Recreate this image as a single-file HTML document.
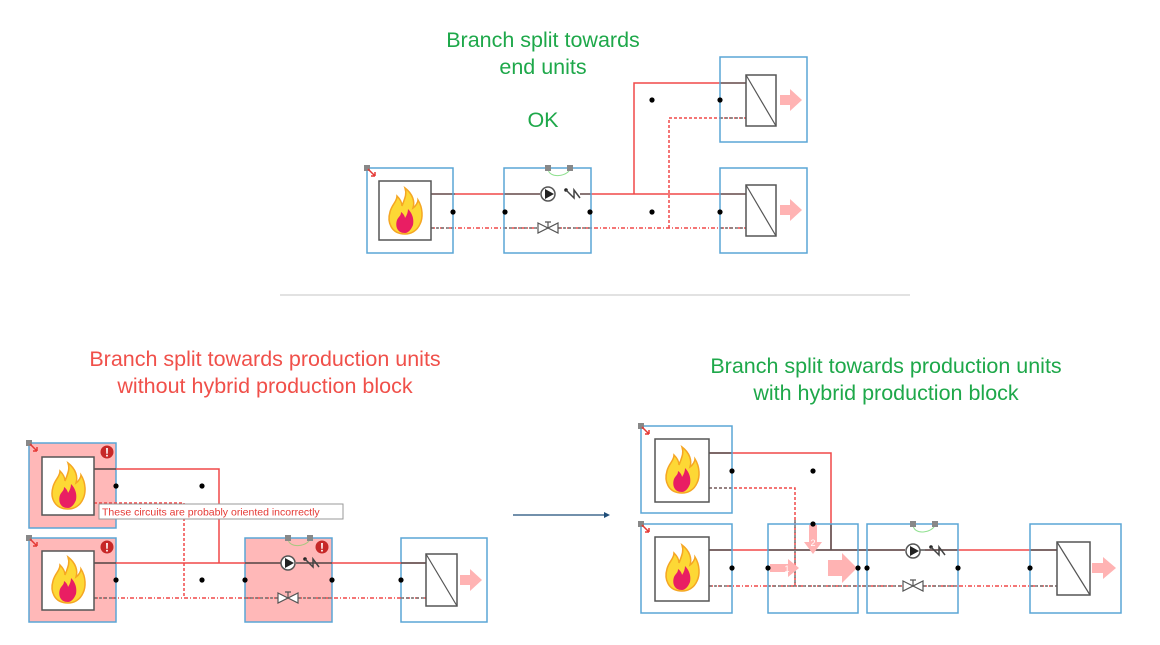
<!DOCTYPE html>
<html><head><meta charset="utf-8"><style>
html,body{margin:0;padding:0;background:#fff;}
svg{display:block;}
text{font-family:"Liberation Sans",sans-serif;}
</style></head><body>
<svg width="1160" height="645" viewBox="0 0 1160 645" xmlns="http://www.w3.org/2000/svg">
<defs>
<g id="flame">
<path d="M0,22 C-14,22 -18,10 -15,0 C-13,-8 -8,-10 -8,-16 C-4,-12 -3,-8 -3,-6 C0,-14 2,-18 0,-24 C8,-18 10,-10 8,-4 C11,-6 13,-10 13,-12 C18,-4 18,6 15,12 C12,19 6,22 0,22 Z" fill="#fdd835" stroke="#f5a623" stroke-width="1.5"/>
<path d="M0,21 C-8,21 -10,14 -8,8 C-6,4 -4,4 -4,0 C-1,2 0,5 0,6 C2,3 3,0 3,-3 C8,2 9,8 8,13 C6,18 3,21 0,21Z" fill="#e91e63"/>
</g>
<g id="pump">
<circle cx="0" cy="0" r="7" fill="#fff" stroke="#555" stroke-width="1.5"/>
<path d="M-3,-5 L6,0 L-3,5Z" fill="#222"/>
</g>
<g id="check">
<circle cx="-6" cy="-4" r="1.8" fill="#222"/>
<path d="M-6,-4 L2,4 L2,-4 L8,4" fill="none" stroke="#444" stroke-width="1.5"/>
</g>
<g id="valve">
<path d="M-10,-5 L10,5 L10,-5 L-10,5Z" fill="#fff" stroke="#555" stroke-width="1.2"/>
<path d="M0,0 L0,-6 M-3,-6 L3,-6" stroke="#555" stroke-width="1.2"/>
</g>
<g id="dot"><circle r="2.6" fill="#000"/></g>
<g id="mark"><rect x="-3" y="-3" width="6" height="6" fill="#888"/><path d="M1,1 L8,8 M8,8 L4,8 M8,8 L8,4" stroke="#e53935" stroke-width="1.5" fill="none"/></g>
<g id="warn"><circle r="6.5" fill="#c62828"/><text x="0" y="4.5" font-size="12" font-weight="bold" fill="#fff" text-anchor="middle">!</text></g>
</defs>

<!-- Titles -->
<g font-size="21.5" text-anchor="middle">
<text x="543" y="47" fill="#1ea84a">Branch split towards</text>
<text x="543" y="74" fill="#1ea84a">end units</text>
<text x="543" y="127" fill="#1ea84a">OK</text>
<text x="265" y="366" fill="#f0504a">Branch split towards production units</text>
<text x="265" y="393" fill="#f0504a">without hybrid production block</text>
<text x="886" y="373" fill="#1ea84a">Branch split towards production units</text>
<text x="886" y="400" fill="#1ea84a">with hybrid production block</text>
</g>
<line x1="280" y1="295" x2="910" y2="295" stroke="#d0d0d0" stroke-width="1.2"/>
<line x1="513" y1="515" x2="604" y2="515" stroke="#1f4e79" stroke-width="1.2"/>
<path d="M604,512 L610,515 L604,518Z" fill="#1f4e79"/>

<!-- ===== TOP DIAGRAM ===== -->
<g fill="none" stroke-width="1.5">
<line x1="431" y1="194" x2="540" y2="194" stroke="#f04848"/>
<line x1="580" y1="194" x2="746" y2="194" stroke="#f04848"/>
<polyline points="634,194 634,83 746,83" stroke="#f04848"/>
<line x1="431" y1="228" x2="538" y2="228" stroke="#f04848" stroke-dasharray="4,2,1,2"/>
<line x1="558" y1="228" x2="746" y2="228" stroke="#f04848" stroke-dasharray="4,2,1,2"/>
<polyline points="669,228 669,118 746,118" stroke="#f04848" stroke-dasharray="3,2"/>
<line x1="431" y1="194" x2="455" y2="194" stroke="#666"/>
<line x1="431" y1="228" x2="455" y2="228" stroke="#777" stroke-dasharray="3,2"/>
<line x1="720" y1="83" x2="746" y2="83" stroke="#666"/>
<line x1="720" y1="118" x2="746" y2="118" stroke="#777" stroke-dasharray="3,2"/>
<line x1="720" y1="194" x2="746" y2="194" stroke="#666"/>
<line x1="720" y1="228" x2="746" y2="228" stroke="#777" stroke-dasharray="3,2"/>
<line x1="504" y1="194" x2="540" y2="194" stroke="#666"/>
<line x1="504" y1="228" x2="538" y2="228" stroke="#777" stroke-dasharray="3,2"/>
<line x1="558" y1="228" x2="591" y2="228" stroke="#777" stroke-dasharray="3,2"/>
<line x1="580" y1="194" x2="591" y2="194" stroke="#666"/>
</g>
<rect x="367" y="168" width="86" height="85" fill="none" stroke="#5aa5d6" stroke-width="1.5"/>
<rect x="379" y="181" width="52" height="59" fill="#fff" stroke="#555" stroke-width="1.5"/>
<use href="#flame" x="405" y="212"/>
<use href="#mark" x="367" y="168"/>
<rect x="504" y="168" width="87" height="85" fill="none" stroke="#5aa5d6" stroke-width="1.5"/>
<path d="M548,168 C548,180 570,176 570,168" fill="none" stroke="#8fe08f" stroke-width="1"/>
<rect x="545" y="165" width="6" height="6" fill="#888"/><rect x="567" y="165" width="6" height="6" fill="#888"/>
<use href="#pump" x="548" y="194"/>
<use href="#check" x="572" y="194"/>
<use href="#valve" x="548" y="228"/>
<rect x="720" y="57" width="87" height="85" fill="none" stroke="#5aa5d6" stroke-width="1.5"/>
<rect x="746" y="75" width="30" height="51" fill="#fff" stroke="#555" stroke-width="1.5"/>
<line x1="746" y1="75" x2="776" y2="126" stroke="#555" stroke-width="1.2"/>
<path d="M780,95 L790,95 L790,89 L802,100 L790,111 L790,105 L780,105Z" fill="#ffb3b3"/>
<rect x="720" y="168" width="87" height="85" fill="none" stroke="#5aa5d6" stroke-width="1.5"/>
<rect x="746" y="185" width="30" height="51" fill="#fff" stroke="#555" stroke-width="1.5"/>
<line x1="746" y1="185" x2="776" y2="236" stroke="#555" stroke-width="1.2"/>
<path d="M780,205 L790,205 L790,199 L802,210 L790,221 L790,215 L780,215Z" fill="#ffb3b3"/>
<use href="#dot" x="453" y="212"/><use href="#dot" x="505" y="212"/><use href="#dot" x="590" y="212"/>
<use href="#dot" x="652" y="212"/><use href="#dot" x="720" y="212"/>
<use href="#dot" x="652" y="100"/><use href="#dot" x="720" y="100"/>

<!-- ===== BOTTOM LEFT ===== -->
<rect x="29" y="443" width="87" height="85" fill="#ffb8b8" stroke="#5aa5d6" stroke-width="1.5"/>
<rect x="29" y="538" width="87" height="84" fill="#ffb8b8" stroke="#5aa5d6" stroke-width="1.5"/>
<rect x="245" y="538" width="87" height="84" fill="#ffb8b8" stroke="#5aa5d6" stroke-width="1.5"/>
<rect x="401" y="538" width="86" height="84" fill="none" stroke="#5aa5d6" stroke-width="1.5"/>
<g fill="none" stroke-width="1.5">
<polyline points="94,469 219,469 219,563" stroke="#f04848"/>
<line x1="94" y1="563" x2="281" y2="563" stroke="#f04848"/>
<line x1="300" y1="563" x2="426" y2="563" stroke="#f04848"/>
<polyline points="94,503 184,503 184,598" stroke="#f04848" stroke-dasharray="3,2"/>
<line x1="94" y1="598" x2="278" y2="598" stroke="#f04848" stroke-dasharray="4,2,1,2"/>
<line x1="298" y1="598" x2="426" y2="598" stroke="#f04848" stroke-dasharray="4,2,1,2"/>
<line x1="94" y1="469" x2="116" y2="469" stroke="#555"/>
<line x1="94" y1="563" x2="116" y2="563" stroke="#555"/>
<line x1="94" y1="598" x2="116" y2="598" stroke="#777" stroke-dasharray="3,2"/>
<line x1="245" y1="563" x2="281" y2="563" stroke="#555"/>
<line x1="296" y1="563" x2="332" y2="563" stroke="#555"/>
<line x1="245" y1="598" x2="278" y2="598" stroke="#777" stroke-dasharray="3,2"/>
<line x1="298" y1="598" x2="332" y2="598" stroke="#777" stroke-dasharray="3,2"/>
<line x1="401" y1="563" x2="426" y2="563" stroke="#555"/>
<line x1="401" y1="598" x2="426" y2="598" stroke="#777" stroke-dasharray="3,2"/>
</g>
<rect x="42" y="457" width="52" height="58" fill="#fff" stroke="#555" stroke-width="1.5"/>
<use href="#flame" x="68" y="487"/>
<rect x="42" y="551" width="52" height="59" fill="#fff" stroke="#555" stroke-width="1.5"/>
<use href="#flame" x="68" y="581"/>
<use href="#mark" x="29" y="443"/><use href="#mark" x="29" y="538"/>
<use href="#warn" x="107" y="452"/><use href="#warn" x="107" y="547"/><use href="#warn" x="322" y="547"/>
<path d="M288,538 C288,550 310,546 310,538" fill="none" stroke="#a8c880" stroke-width="1"/>
<rect x="285" y="535" width="6" height="6" fill="#888"/><rect x="307" y="535" width="6" height="6" fill="#888"/>
<use href="#pump" x="288" y="563"/>
<use href="#check" x="311" y="563"/>
<use href="#valve" x="288" y="598"/>
<rect x="426" y="554" width="31" height="52" fill="#fff" stroke="#555" stroke-width="1.5"/>
<line x1="426" y1="554" x2="457" y2="606" stroke="#555" stroke-width="1.2"/>
<path d="M460,575 L470,575 L470,569 L482,580 L470,591 L470,585 L460,585Z" fill="#ffb3b3"/>
<use href="#dot" x="116" y="486"/><use href="#dot" x="202" y="486"/>
<use href="#dot" x="116" y="580"/><use href="#dot" x="202" y="580"/><use href="#dot" x="245" y="580"/>
<use href="#dot" x="332" y="580"/><use href="#dot" x="401" y="580"/>
<rect x="99" y="504" width="244" height="15" fill="#fff" stroke="#999" stroke-width="1"/>
<text x="102" y="515.5" font-size="10.5" fill="#e53935">These circuits are probably oriented incorrectly</text>

<!-- ===== BOTTOM RIGHT ===== -->
<g fill="none" stroke-width="1.5">
<polyline points="709,453 831,453 831,550" stroke="#f04848"/>
<line x1="709" y1="550" x2="905" y2="550" stroke="#f04848"/>
<line x1="925" y1="550" x2="1057" y2="550" stroke="#f04848"/>
<polyline points="709,488 795,488 795,586" stroke="#f04848" stroke-dasharray="3,2"/>
<line x1="709" y1="586" x2="903" y2="586" stroke="#f04848" stroke-dasharray="4,2,1,2"/>
<line x1="923" y1="586" x2="1057" y2="586" stroke="#f04848" stroke-dasharray="4,2,1,2"/>
<line x1="709" y1="453" x2="732" y2="453" stroke="#555"/>
<line x1="709" y1="488" x2="732" y2="488" stroke="#777" stroke-dasharray="3,2"/>
<line x1="709" y1="550" x2="732" y2="550" stroke="#555"/>
<line x1="709" y1="586" x2="732" y2="586" stroke="#777" stroke-dasharray="3,2"/>
<line x1="768" y1="550" x2="905" y2="550" stroke="#555"/>
<line x1="920" y1="550" x2="958" y2="550" stroke="#555"/>
<line x1="768" y1="586" x2="903" y2="586" stroke="#777" stroke-dasharray="3,2"/>
<line x1="923" y1="586" x2="958" y2="586" stroke="#777" stroke-dasharray="3,2"/>
<line x1="795" y1="520" x2="795" y2="586" stroke="#777" stroke-dasharray="3,2"/>
<line x1="831" y1="524" x2="831" y2="550" stroke="#555"/>
<line x1="1030" y1="550" x2="1057" y2="550" stroke="#555"/>
<line x1="1030" y1="586" x2="1057" y2="586" stroke="#777" stroke-dasharray="3,2"/>
</g>
<rect x="641" y="426" width="91" height="87" fill="none" stroke="#5aa5d6" stroke-width="1.5"/>
<rect x="655" y="439" width="54" height="63" fill="#fff" stroke="#555" stroke-width="1.5"/>
<use href="#flame" x="682" y="471"/>
<rect x="641" y="524" width="91" height="89" fill="none" stroke="#5aa5d6" stroke-width="1.5"/>
<rect x="655" y="537" width="54" height="64" fill="#fff" stroke="#555" stroke-width="1.5"/>
<use href="#flame" x="682" y="569"/>
<use href="#mark" x="641" y="426"/><use href="#mark" x="641" y="524"/>
<rect x="768" y="524" width="90" height="89" fill="none" stroke="#5aa5d6" stroke-width="1.5"/>
<path d="M770,564 L788,564 L788,559 L799,568 L788,577 L788,572 L770,572Z" fill="#ffb3b3"/>
<text x="787" y="572" font-size="9" fill="#fff" text-anchor="middle">1</text>
<path d="M828,560 L842,560 L842,553 L857,568 L842,583 L842,576 L828,576Z" fill="#ffb3b3"/>
<path d="M809,525 L817,525 L817,542 L822,542 L813,554 L804,542 L809,542Z" fill="#ffb3b3"/>
<text x="813" y="546" font-size="9" fill="#fff" text-anchor="middle">2</text>
<rect x="867" y="524" width="91" height="89" fill="none" stroke="#5aa5d6" stroke-width="1.5"/>
<path d="M913,524 C913,537 935,532 935,524" fill="none" stroke="#8fe08f" stroke-width="1"/>
<rect x="910" y="521" width="6" height="6" fill="#888"/><rect x="932" y="521" width="6" height="6" fill="#888"/>
<use href="#pump" x="913" y="551"/>
<use href="#check" x="937" y="551"/>
<use href="#valve" x="913" y="586"/>
<rect x="1030" y="524" width="91" height="89" fill="none" stroke="#5aa5d6" stroke-width="1.5"/>
<rect x="1057" y="542" width="33" height="53" fill="#fff" stroke="#555" stroke-width="1.5"/>
<line x1="1057" y1="542" x2="1090" y2="595" stroke="#555" stroke-width="1.2"/>
<path d="M1092,563 L1103,563 L1103,557 L1116,568 L1103,579 L1103,573 L1092,573Z" fill="#ffb3b3"/>
<use href="#dot" x="732" y="471"/><use href="#dot" x="813" y="471"/><use href="#dot" x="813" y="524"/>
<use href="#dot" x="732" y="568"/><use href="#dot" x="768" y="568"/><use href="#dot" x="858" y="568"/>
<use href="#dot" x="867" y="568"/><use href="#dot" x="958" y="568"/><use href="#dot" x="1030" y="568"/>
</svg>
</body></html>
